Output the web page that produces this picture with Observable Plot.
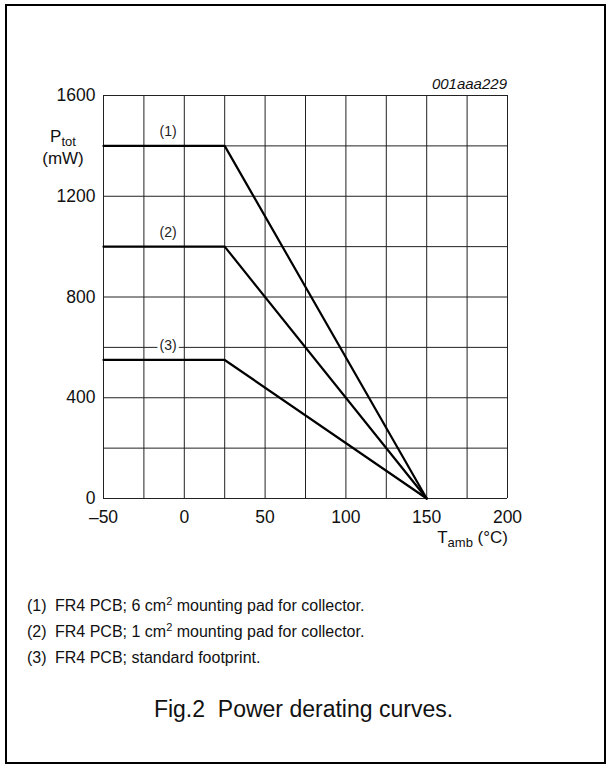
<!DOCTYPE html>
<html><head><meta charset="utf-8">
<script src="https://cdn.jsdelivr.net/npm/d3@7"></script>
<script src="https://cdn.jsdelivr.net/npm/@observablehq/plot@0.6"></script>
<style>
body{margin:0;background:#fff;font-family:"Liberation Sans",Arial,sans-serif;}
#wrap{position:relative;width:607px;height:766px;}
#frame{position:absolute;left:5px;top:4px;width:601px;height:760px;border:2px solid #000;box-sizing:border-box;}
#chart{position:absolute;left:0;top:0;}
.note{position:absolute;left:27px;font-size:16px;line-height:18px;color:#111;white-space:nowrap;}
.note span.t{position:absolute;left:28px;}
.note sup{font-size:11px;vertical-align:6px;line-height:0;}
#cap{position:absolute;left:0;width:607px;text-align:center;top:696px;font-size:23px;line-height:26px;color:#111;}
</style></head>
<body><div id="wrap"><div id="frame"></div><div id="chart"></div>
<div class="note" style="top:597px">(1)<span class="t">FR4 PCB; 6 cm<sup>2</sup> mounting pad for collector.</span></div>
<div class="note" style="top:623px">(2)<span class="t">FR4 PCB; 1 cm<sup>2</sup> mounting pad for collector.</span></div>
<div class="note" style="top:649px">(3)<span class="t">FR4 PCB; standard footprint.</span></div>
<div id="cap">Fig.2&nbsp; Power derating curves.</div>
</div>
<script>
const xTicks = [-50, 0, 50, 100, 150, 200];
const yTicks = [0, 400, 800, 1200, 1600];
const xGrid = [-50, -25, 0, 25, 50, 75, 100, 125, 150, 175, 200];
const yGrid = [0, 200, 400, 600, 800, 1000, 1200, 1400, 1600];
const curveNames = ["(1)", "(2)", "(3)"];
const curveTemps = [-50, 25, 150];
const curve1 = [1400, 1400, 0];
const curve2 = [1000, 1000, 0];
const curve3 = [550, 550, 0];
const labelTemp = -10;

const curves = [curve1, curve2, curve3];
const lineData = curves.flatMap((c, i) => c.map((p, j) => ({name: curveNames[i], t: curveTemps[j], p})));
const labelData = curves.map((c, i) => ({name: curveNames[i], t: labelTemp, p: c[0]}));
const fmtX = d => d < 0 ? "\u2013" + Math.abs(d) : String(d);

const W = 607, H = 560;
const plot = Plot.plot({
  width: W, height: H,
  marginLeft: 103, marginRight: 100, marginTop: 95, marginBottom: H - 498,
  style: {fontFamily: "Liberation Sans, Arial, sans-serif", color: "#111", background: "transparent"},
  x: {domain: [-50, 200], label: null},
  y: {domain: [0, 1600], label: null},
  marks: [
    Plot.ruleX(xGrid, {stroke: "#222", strokeWidth: 1}),
    Plot.ruleY(yGrid, {stroke: "#222", strokeWidth: 1}),
    Plot.line(lineData, {x: "t", y: "p", z: "name", stroke: "#000", strokeWidth: 2.2}),
    Plot.text(labelData, {x: "t", y: "p", text: "name", dy: -14, fontSize: 14, fill: "#222",
      stroke: "white", strokeWidth: 6, paintOrder: "stroke"}),
    Plot.axisX({ticks: xTicks, tickSize: 0, tickPadding: 12, tickFormat: fmtX, label: null}),
    Plot.axisY({ticks: yTicks, tickSize: 0, tickPadding: 8, tickFormat: d => String(d), label: null})
  ]
});
document.getElementById("chart").appendChild(plot);

const svg = d3.select(plot);
svg.selectAll('g[aria-label="x-axis tick label"], g[aria-label="y-axis tick label"]')
  .attr("font-size", 17.5);
const yl = svg.append("text").attr("x", 63).attr("y", 142).attr("text-anchor", "middle")
  .attr("font-size", 17).attr("fill", "#111");
yl.append("tspan").text("P");
yl.append("tspan").attr("font-size", 13).attr("dy", 4).text("tot");
svg.append("text").attr("x", 63).attr("y", 164).attr("text-anchor", "middle")
  .attr("font-size", 17).attr("fill", "#111").text("(mW)");
const xl = svg.append("text").attr("x", 508).attr("y", 543).attr("text-anchor", "end")
  .attr("font-size", 17).attr("fill", "#111");
xl.append("tspan").text("T");
xl.append("tspan").attr("font-size", 13).attr("dy", 4).text("amb");
xl.append("tspan").attr("dy", -4).text(" (\u00B0C)");
svg.append("text").attr("x", 507).attr("y", 89).attr("text-anchor", "end")
  .attr("font-size", 15).attr("font-style", "italic").attr("fill", "#111").text("001aaa229");
</script></body></html>
